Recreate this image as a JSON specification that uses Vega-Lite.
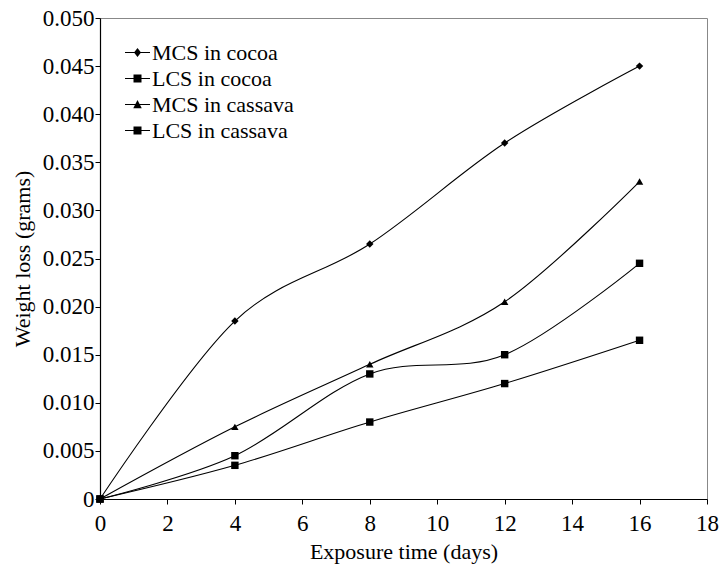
{
  "$schema": "https://vega.github.io/schema/vega-lite/v6.json",
  "width": 607,
  "height": 481,
  "autosize": {"type": "none"},
  "padding": {"left": 100, "top": 18, "right": 13, "bottom": 68},
  "background": "white",
  "config": {
    "font": "Liberation Serif",
    "view": {"stroke": "#888888", "strokeWidth": 1},
    "axis": {
      "grid": false,
      "domainColor": "black",
      "tickColor": "black",
      "labelColor": "black",
      "titleColor": "black",
      "labelFont": "Liberation Serif",
      "titleFont": "Liberation Serif",
      "labelFontSize": 23,
      "titleFontSize": 22,
      "titleFontWeight": "normal",
      "tickSize": 5,
      "domainWidth": 1.2,
      "tickWidth": 1
    },
    "legend": {
      "labelFont": "Liberation Serif",
      "labelFontSize": 22
    }
  },
  "data": {
    "values": [
      {"series": "MCS in cocoa", "day": 0, "loss": 0},
      {"series": "MCS in cocoa", "day": 4, "loss": 0.0185},
      {"series": "MCS in cocoa", "day": 8, "loss": 0.0265},
      {"series": "MCS in cocoa", "day": 12, "loss": 0.037},
      {"series": "MCS in cocoa", "day": 16, "loss": 0.045},
      {"series": "LCS in cocoa", "day": 0, "loss": 0},
      {"series": "LCS in cocoa", "day": 4, "loss": 0.0045},
      {"series": "LCS in cocoa", "day": 8, "loss": 0.013},
      {"series": "LCS in cocoa", "day": 12, "loss": 0.015},
      {"series": "LCS in cocoa", "day": 16, "loss": 0.0245},
      {"series": "MCS in cassava", "day": 0, "loss": 0},
      {"series": "MCS in cassava", "day": 4, "loss": 0.0075},
      {"series": "MCS in cassava", "day": 8, "loss": 0.014},
      {"series": "MCS in cassava", "day": 12, "loss": 0.0205},
      {"series": "MCS in cassava", "day": 16, "loss": 0.033},
      {"series": "LCS in cassava", "day": 0, "loss": 0},
      {"series": "LCS in cassava", "day": 4, "loss": 0.0035},
      {"series": "LCS in cassava", "day": 8, "loss": 0.008},
      {"series": "LCS in cassava", "day": 12, "loss": 0.012},
      {"series": "LCS in cassava", "day": 16, "loss": 0.0165}
    ]
  },
  "encoding": {
    "x": {
      "field": "day",
      "type": "quantitative",
      "scale": {"domain": [0, 18], "nice": false, "zero": false},
      "axis": {
        "title": "Exposure time (days)",
        "values": [0, 2, 4, 6, 8, 10, 12, 14, 16, 18],
        "labelFont": "Liberation Serif",
        "labelFontSize": 23,
        "labelPadding": 8,
        "titlePadding": 6,
        "labelFlush": false
      }
    },
    "y": {
      "field": "loss",
      "type": "quantitative",
      "scale": {"domain": [0, 0.05], "nice": false},
      "axis": {
        "title": "Weight loss (grams)",
        "values": [0, 0.005, 0.01, 0.015, 0.02, 0.025, 0.03, 0.035, 0.04, 0.045, 0.05],
        "labelExpr": "datum.value == 0 ? '0' : format(datum.value, '.3f')",
        "labelFont": "Liberation Serif",
        "labelFontSize": 23,
        "labelPadding": 1,
        "titlePadding": 8,
        "labelFlush": false
      }
    }
  },
  "layer": [
    {
      "mark": {"type": "line", "interpolate": "cardinal", "color": "black", "strokeWidth": 1.1},
      "encoding": {
        "detail": {"field": "series"},
        "order": {"field": "day"}
      }
    },
    {
      "mark": {"type": "point", "filled": true, "color": "black", "opacity": 1, "size": 55},
      "encoding": {
        "shape": {
          "field": "series",
          "type": "nominal",
          "scale": {
            "domain": ["MCS in cocoa", "LCS in cocoa", "MCS in cassava", "LCS in cassava"],
            "range": ["diamond", "square", "triangle-up", "square"]
          },
          "legend": null
        }
      }
    },
    {
      "mark": {"type": "point", "filled": true, "color": "black", "opacity": 0},
      "encoding": {
        "shape": {
          "field": "series",
          "type": "nominal",
          "scale": {
            "domain": ["MCS in cocoa", "LCS in cocoa", "MCS in cassava", "LCS in cassava"],
            "range": [
              "M-1,-0.045H1V0.045H-1ZM0,-0.36L0.28,0L0,0.36L-0.28,0Z",
              "M-1,-0.045H1V0.045H-1ZM-0.32,-0.32H0.32V0.32H-0.32Z",
              "M-1,-0.045H1V0.045H-1ZM0,-0.36L0.34,0.3H-0.34Z",
              "M-1,-0.045H1V0.045H-1ZM-0.32,-0.32H0.32V0.32H-0.32Z"
            ]
          },
          "legend": {
            "title": null,
            "orient": "none",
            "legendX": 25,
            "legendY": 22,
            "symbolSize": 625,
            "symbolStrokeWidth": 0,
            "symbolFillColor": "black",
            "symbolStrokeColor": "black",
            "symbolOpacity": 1,
            "labelFont": "Liberation Serif",
            "labelFontSize": 22,
            "labelColor": "black",
            "labelOffset": 2,
            "rowPadding": 2,
            "encode": {
              "symbols": {
                "opacity": {"value": 1},
                "fill": {"value": "black"},
                "fillOpacity": {"value": 1}
              }
            }
          }
        }
      }
    }
  ],
  "resolve": {"scale": {"shape": "independent"}, "legend": {"shape": "independent"}}
}
